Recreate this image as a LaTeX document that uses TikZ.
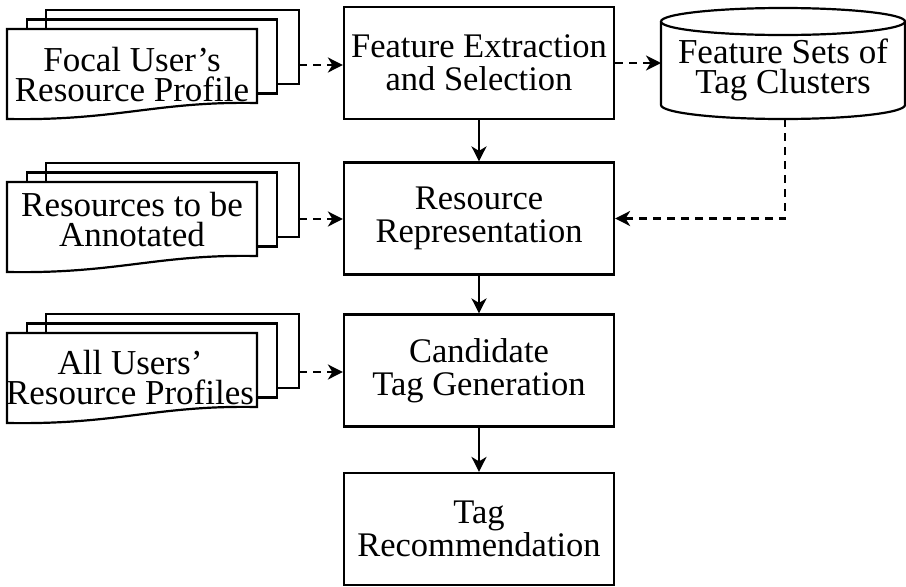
\documentclass[tikz,border=0pt]{standalone}
\usepackage{fontspec}
\setmainfont{Liberation Serif}
\usetikzlibrary{arrows.meta}

\begin{document}
\begin{tikzpicture}[x=1pt,y=-1pt,
  line width=2.2pt, line join=miter,
  proc/.style={draw, minimum width=270pt, minimum height=112pt, inner sep=0pt,
    align=center, font=\fontsize{34.5}{33}\selectfont},
  doctext/.style={align=center, inner sep=0pt, font=\fontsize{35}{29.5}\selectfont},
  flow/.style={-{Stealth[length=15pt,width=15pt,inset=4.5pt]}},
  feed/.style={flow, dash pattern=on 8pt off 6pt},
  % stack of three pages, origin at the top-left corner of the front page
  pics/docstack/.style={code={
    \draw (39,0) -- (39,-19) -- (292,-19) -- (292,55) -- (270,55);
    \draw (20,0) -- (20,-9.5) -- (270,-9.5) -- (270,64.5) -- (250,64.5);
    \draw (0,90) -- (0,0) -- (250,0) -- (250,74)
      .. controls (150,72) and (110,92) .. (0,90) -- cycle;
  }}
]
\useasboundingbox (0,0) rectangle (906,587);

% main process column
\node[proc] (b1) at (479,63)    {Feature Extraction\\and Selection};
\node[proc] (b2) at (479,218.5) {Resource\\Representation};
\node[proc] (b3) at (479,370.5) {Candidate\\Tag Generation};
\node[proc] (b4) at (479,529)   {Tag\\Recommendation};

% document stacks on the left
\pic at (7,29)  {docstack};
\pic at (7,182) {docstack};
\pic at (7,333) {docstack};
\node[doctext] (d1) at (132,74.3)  {Focal User’s\\Resource Profile};
\node[doctext] (d2) at (132,219.6) {Resources to be\\Annotated};
\node[doctext] (d3) at (130,377.3) {All Users’\\Resource Profiles};
\coordinate (s1out) at (299,65);
\coordinate (s2out) at (299,219);
\coordinate (s3out) at (299,372);

% data store (cylinder)
\draw (783,21.5) ellipse [x radius=122, y radius=13.5];
\draw (661,21.5) -- (661,105) arc[start angle=180, end angle=0, x radius=122, y radius=14]
  -- (905,21.5);
\node[doctext] (cyl) at (783,70) {Feature Sets of\\Tag Clusters};
\coordinate (cylw) at (661,63);
\coordinate (cylbot) at (785,119);

% connectors
\draw[flow] (b1) -- (b2);
\draw[flow] (b2) -- (b3);
\draw[flow] (b3) -- (b4);
\draw[feed] (s1out) -- (s1out -| b1.west);
\draw[feed] (s2out) -- (s2out -| b2.west);
\draw[feed] (s3out) -- (s3out -| b3.west);
\draw[feed] (b1.east |- cylw) -- (cylw);
\draw[feed] (cylbot) |- (b2.east);
\end{tikzpicture}
\end{document}
